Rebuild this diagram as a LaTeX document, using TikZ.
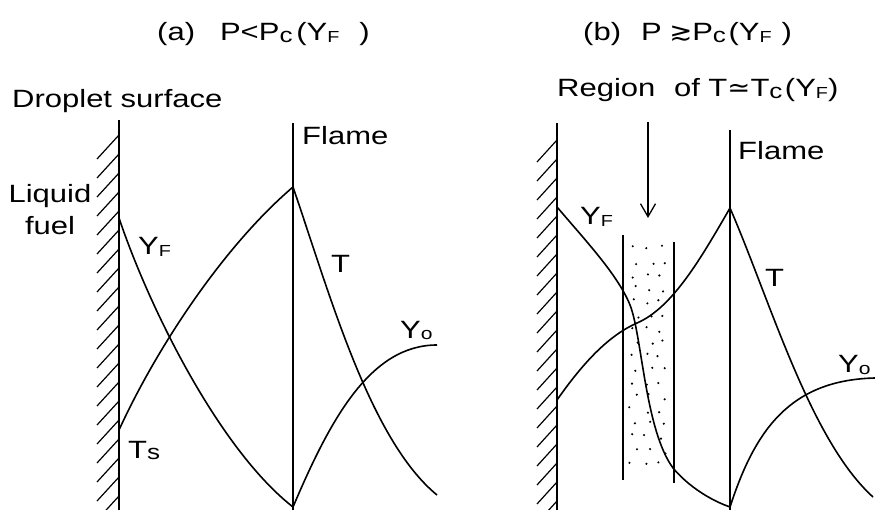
\documentclass[tikz,border=0pt]{standalone}
\usepackage{fontspec}
\setmainfont{Liberation Sans}[FakeStretch=1.24]
\newfontfamily\relfont{DejaVu Sans}[FakeStretch=1.1]
\usepackage{tikz}
\usetikzlibrary{arrows.meta}
\newcommand\sbs[2][17]{\raisebox{-0.15ex}{\fontsize{#1}{#1}\selectfont #2}}

\begin{document}
\begin{tikzpicture}[
    x=1pt, y=-1pt,
    every node/.style={inner sep=0pt, font=\fontsize{25}{32}\selectfont},
    wall/.style={line width=1.6pt},
    hatch/.style={line width=1.2pt},
    curve/.style={line width=1.6pt},
    band/.style={line width=1.5pt},
    speck/.style={fill=black}
]
    \useasboundingbox (0,0) rectangle (875,510);
    \begin{scope}
    \clip (0,0) rectangle (875,510);

    % Panel (a): walls and hatching
    \draw [wall] (119,120) -- (119,515);
    \draw [wall] (293,123) -- (293,515);
    \foreach \y in {135,154,...,520}
        \draw [hatch] (119,\y) -- ++(-22,24);

    % Panel (a): profiles
    \draw [curve] (119,218) .. controls (150,310) and (220,450) .. (293,507);
    \draw [curve] (119,430) .. controls (158,345) and (225,245) .. (293,187);
    \draw [curve] (293,187) .. controls (330,295) and (370,440) .. (437,495);
    \draw [curve] (293,507) .. controls (330,420) and (370,345) .. (437,345);

    % Panel (b): walls and hatching
    \draw [wall] (557,123) -- (557,515);
    \draw [wall] (730,130) -- (730,515);
    \foreach \y in {140,159,...,520}
        \draw [hatch] (557,\y) -- ++(-20,22);

    % Panel (b): region of critical temperature
    \draw [band] (623,235) -- (623,480);
    \draw [band] (674,242) -- (674,483);
    \pgfmathsetseed{42}
    \foreach \r in {0,...,16} {
        \foreach \c in {0,1,2} {
            \pgfmathsetmacro{\px}{632+\c*14+mod(\r,2)*5+rand*3}
            \pgfmathsetmacro{\py}{248+\r*13.5+rand*3}
            \fill [speck] (\px,\py) circle (1.2pt);
        }
    }

    % Panel (b): profiles
    \draw [curve] (557,207) .. controls (585,240) and (618,275) .. (630,305)
        .. controls (642,335) and (645,430) .. (673,468)
        .. controls (688,486) and (710,500) .. (730,507);
    \draw [curve] (557,400) .. controls (585,360) and (610,335) .. (637,323)
        .. controls (672,308) and (700,260) .. (730,208);
    \draw [curve] (730,208) .. controls (770,300) and (810,440) .. (873,497);
    \draw [curve] (730,507) .. controls (755,430) and (790,380) .. (875,378);
    \end{scope}

    % Titles
    \node (titleA) [anchor=base west] at (157,41) {(a)\hspace{1.0em}P<P\sbs[21]{c}\hspace{0.15em}(Y\sbs[16]{F}\hspace{0.8em})};
    \node (titleB) [anchor=base west] at (583,41) {(b)\hspace{0.8em}P\hspace{0.3em}{\relfont ≳}P\sbs[21]{c}\hspace{0.1em}(Y\sbs[16]{F}\hspace{0.4em})};

    % Labels, panel (a)
    \node (surface) [anchor=base west] at (12,108) {Droplet surface};
    \node (flameA) [anchor=base west] at (302,145) {Flame};
    \node (liquid) [anchor=base, align=center] at (50,235) {Liquid\\fuel};
    \node (yfA) [anchor=base west] at (138,255) {Y\sbs[16]{F}};
    \node (tA) [anchor=base west] at (331,273) {T};
    \node (tsA) [anchor=base west] at (128,458) {T\sbs[21]{s}};
    \node (yoA) [anchor=base west] at (400,338) {Y\sbs[17]{o}};

    % Labels, panel (b)
    \node (region) [anchor=base west] at (557,97) {Region\hspace{0.4em} of T{\relfont ≃}T\sbs[21]{c}\hspace{0.1em}(Y\sbs[16]{F})};
    \node (flameB) [anchor=base west] at (738,160) {Flame};
    \node (yfB) [anchor=base west] at (580,225) {Y\sbs[16]{F}};
    \node (tB) [anchor=base west] at (765,287) {T};
    \node (yoB) [anchor=base west] at (838,373) {Y\sbs[17]{o}};

    % Arrow to the region
    \coordinate (arrowTop) at (648,122);
    \coordinate (arrowTip) at (648,218);
    \draw [-{Straight Barb[length=13pt, width=15pt]}, line width=1.3pt] (arrowTop) -- (arrowTip);
\end{tikzpicture}
\end{document}
